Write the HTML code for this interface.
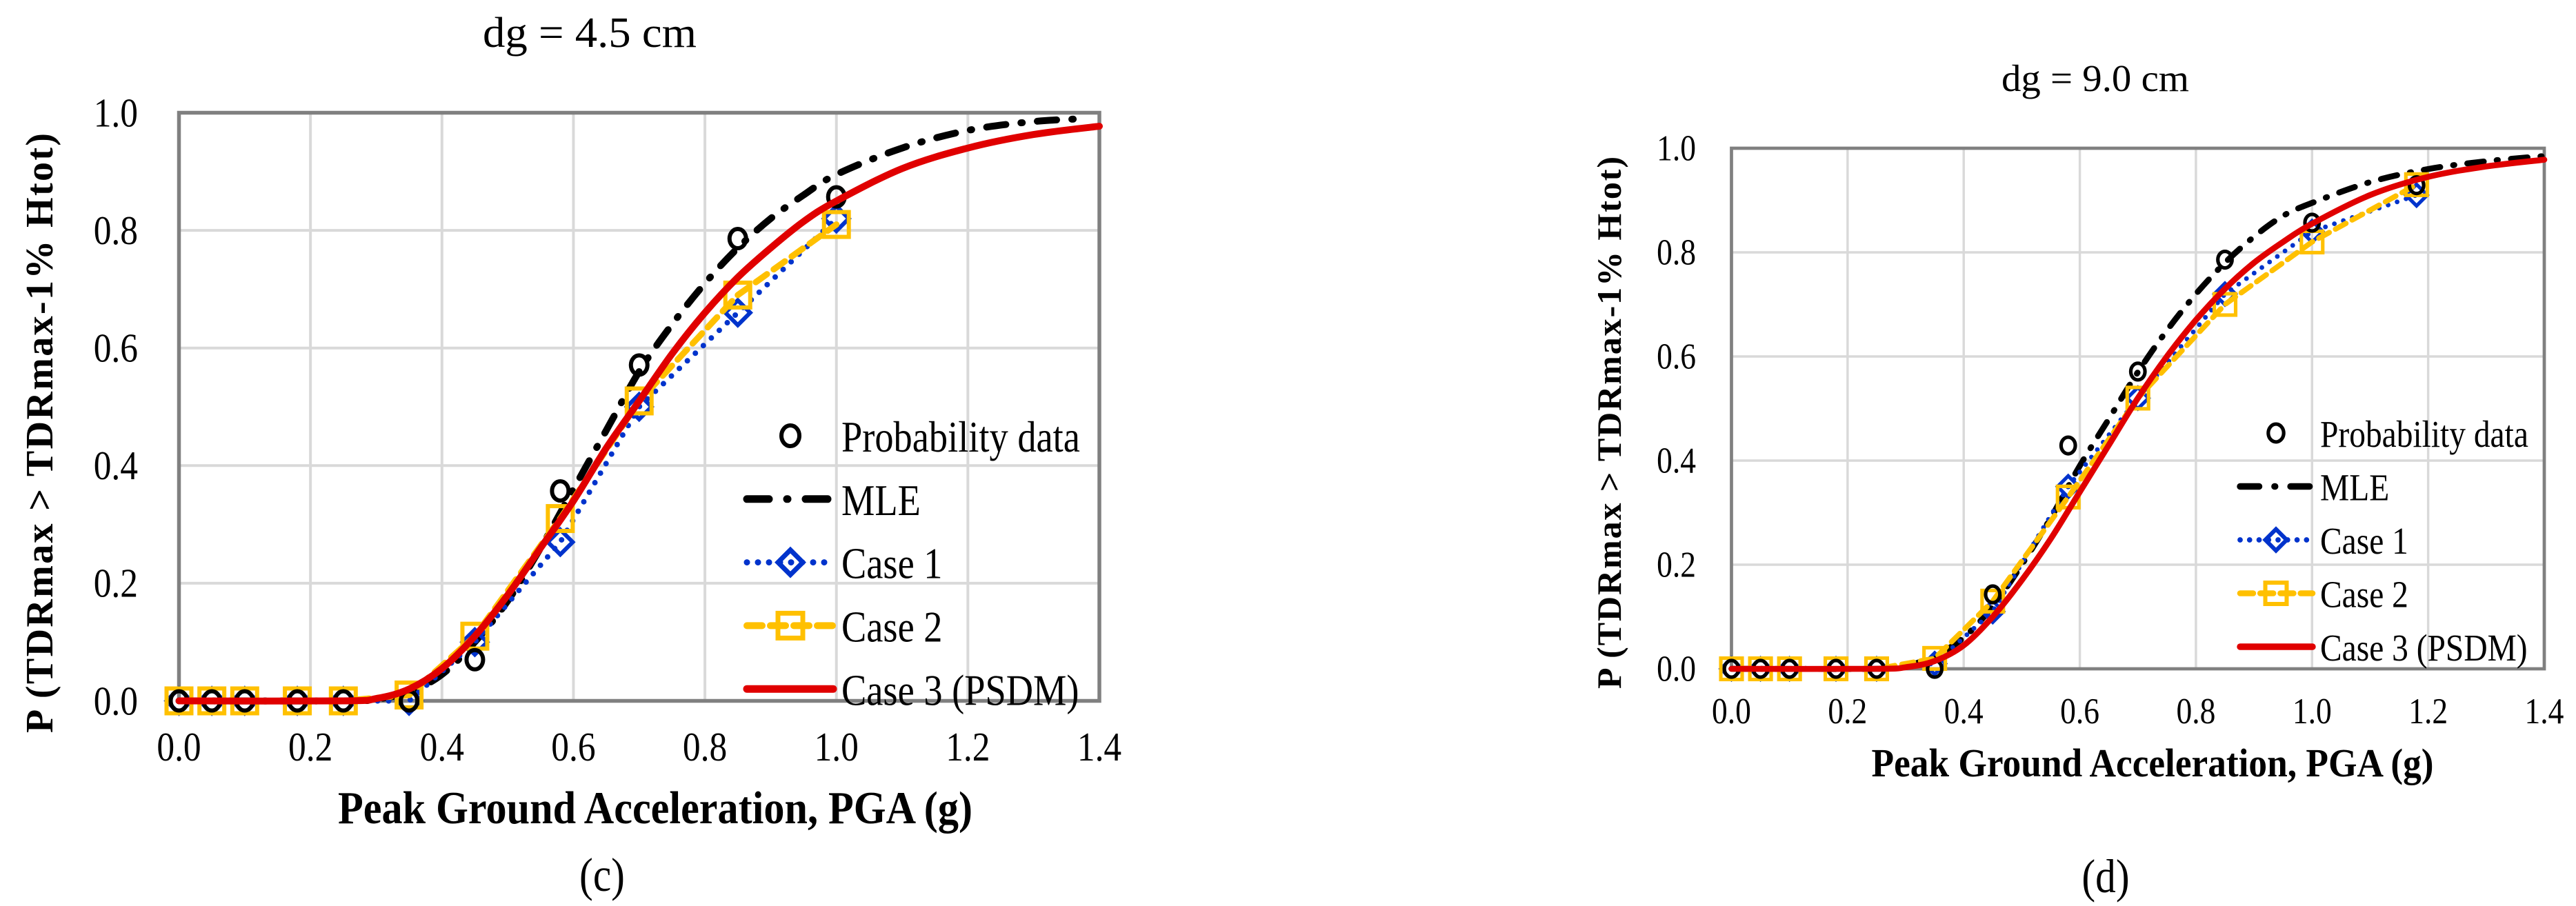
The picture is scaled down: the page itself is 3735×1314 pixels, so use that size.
<!DOCTYPE html>
<html><head><meta charset="utf-8"><style>
html,body{margin:0;padding:0;background:#fff;}
svg{display:block;}
text{font-family:"Liberation Serif",serif;fill:#000;}
</style></head><body>
<svg id="svg" width="3735" height="1314" viewBox="0 0 3735 1314" xmlns="http://www.w3.org/2000/svg"></svg>
<script>
// ---- data: chart (c), dg = 4.5 cm ----
const cPtsX = [0.0,0.05,0.1,0.18,0.25,0.35,0.45,0.58,0.70,0.85,1.0];
const cProb = [0,0,0,0,0,0,0.07,0.357,0.571,0.786,0.857];
const cCase1 = [0,0,0,0,0,0,0.10,0.27,0.50,0.66,0.82];
const cCase2 = [0,0,0,0,0,0.01,0.11,0.31,0.51,0.69,0.81];
const cCurveX = [0,0.25,0.3,0.35,0.4,0.45,0.5,0.55,0.6,0.65,0.7,0.75,0.8,0.85,0.9,0.95,1.0,1.1,1.2,1.3,1.38];
const cMLE = [0,0,0.003,0.015,0.045,0.10,0.17,0.26,0.36,0.46,0.56,0.64,0.71,0.77,0.82,0.86,0.895,0.94,0.97,0.985,0.99];
const cCurve3X = [0,0.25,0.3,0.35,0.4,0.45,0.5,0.55,0.6,0.65,0.7,0.75,0.8,0.85,0.9,0.95,1.0,1.1,1.2,1.3,1.4];
const cCase3 = [0,0,0.004,0.02,0.055,0.11,0.18,0.26,0.34,0.43,0.51,0.59,0.66,0.72,0.77,0.815,0.85,0.905,0.94,0.963,0.977];
// ---- data: chart (d), dg = 9.0 cm ----
const dPtsX = [0.0,0.05,0.1,0.18,0.25,0.35,0.45,0.58,0.70,0.85,1.0,1.18];
const dProb = [0,0,0,0,0,0,0.143,0.429,0.571,0.786,0.857,0.929];
const dCase1 = [0,0,0,0,0,0.01,0.11,0.35,0.52,0.72,0.84,0.91];
const dCase2 = [0,0,0,0,0,0.02,0.13,0.33,0.52,0.70,0.82,0.93];
const dCurveX = [0,0.25,0.3,0.35,0.4,0.45,0.5,0.55,0.6,0.65,0.7,0.75,0.8,0.85,0.9,0.95,1.0,1.1,1.2,1.3,1.4];
const dMLE = [0,0,0.005,0.025,0.06,0.12,0.20,0.29,0.39,0.48,0.57,0.65,0.72,0.78,0.83,0.87,0.895,0.935,0.96,0.975,0.985];
const dCase3 = [0,0,0.003,0.015,0.045,0.10,0.17,0.25,0.34,0.43,0.52,0.60,0.67,0.73,0.78,0.82,0.855,0.91,0.945,0.965,0.978];
// ---- tick labels ----
const xTicks = ["0.0","0.2","0.4","0.6","0.8","1.0","1.2","1.4"];
const yTicks = ["0.0","0.2","0.4","0.6","0.8","1.0"];
const legendLabels = ["Probability data","MLE","Case 1","Case 2","Case 3 (PSDM)"];

const NS="http://www.w3.org/2000/svg";
const svg=document.getElementById('svg');
const K=1.15, SQ=0.86;
function mk(tag,attrs,parent){const e=document.createElementNS(NS,tag);for(const k in attrs)e.setAttribute(k,attrs[k]);(parent||svg).appendChild(e);return e;}
function txt(s,attrs,parent){
  const a=Object.assign({},attrs);
  const fixed=('textLength' in a);
  if(!fixed)a['font-size']=a['font-size']*K;
  a['font-family']='Liberation Serif, serif';
  const e=mk('text',a,parent);e.textContent=s;
  if(!fixed){const w=e.getComputedTextLength();if(w>0){e.setAttribute('textLength',(w*SQ).toFixed(1));e.setAttribute('lengthAdjust','spacingAndGlyphs');}}
  return e;}
function smooth(pts){
  let d='M'+pts[0][0]+','+pts[0][1];
  for(let i=0;i<pts.length-1;i++){
    const p0=pts[Math.max(0,i-1)],p1=pts[i],p2=pts[i+1],p3=pts[Math.min(pts.length-1,i+2)];
    const c1=[p1[0]+(p2[0]-p0[0])/6,p1[1]+(p2[1]-p0[1])/6];
    const c2=[p2[0]-(p3[0]-p1[0])/6,p2[1]-(p3[1]-p1[1])/6];
    d+=' C'+c1[0].toFixed(1)+','+c1[1].toFixed(1)+' '+c2[0].toFixed(1)+','+c2[1].toFixed(1)+' '+p2[0].toFixed(1)+','+p2[1].toFixed(1);
  }
  return d;
}
function diamond(g,x,y,r,sw){return mk('path',{d:`M${x},${y-r} L${x+r},${y} L${x},${y+r} L${x-r},${y} Z`,fill:'none',stroke:'#0033CC','stroke-width':sw},g);}
function square(g,x,y,r,sw){return mk('rect',{x:x-r,y:y-r,width:2*r,height:2*r,fill:'none',stroke:'#FFC000','stroke-width':sw},g);}

function drawChart(c){
  const g=mk('g',{});
  
  
  const X=v=>c.L+(c.R-c.L)*v/1.4, Y=v=>c.B-(c.B-c.T)*v;
  const s=c.s;
  const grid=mk('g',{},g);
  
  
  for(let i=1;i<7;i++)mk('line',{x1:X(i*0.2),x2:X(i*0.2),y1:c.T,y2:c.B,stroke:'#D9D9D9','stroke-width':4*s},grid);
  for(let i=1;i<5;i++)mk('line',{x1:c.L,x2:c.R,y1:Y(i*0.2),y2:Y(i*0.2),stroke:'#D9D9D9','stroke-width':4*s},grid);
  const fr=mk('rect',{x:c.L,y:c.T,width:c.R-c.L,height:c.B-c.T,fill:'none',stroke:'#808080','stroke-width':5.5*s},g);
  
  
  xTicks.forEach((t,i)=>{const e=txt(t,{x:X(i*0.2),y:c.xtY,'font-size':c.tf,'text-anchor':'middle'},g);
    });
  yTicks.forEach((t,i)=>{const e=txt(t,{x:c.ytX,y:Y(i*0.2)+c.tf*0.38,'font-size':c.tf,'text-anchor':'end'},g);
    });
  let e=txt(c.title,{x:c.titleX,y:c.titleY,'font-size':c.titleF*K,'text-anchor':'middle',textLength:c.titleW,lengthAdjust:'spacingAndGlyphs'},g);
  
  e=txt('Peak Ground Acceleration, PGA (g)',{x:c.xtX,y:c.xtitY,'font-size':c.axF*K,'font-weight':'bold','text-anchor':'middle',textLength:c.xtW,lengthAdjust:'spacingAndGlyphs'},g);
  
  e=txt('P (TDRmax > TDRmax-1% Htot)',{x:0,y:0,'font-size':c.ayF,'font-weight':'bold','text-anchor':'middle',textLength:c.ytW,lengthAdjust:'spacing',transform:`translate(${c.ytitX},${c.ytitY}) rotate(-90)`},g);
  
  e=txt(c.panel,{x:c.panelX,y:c.panelY,'font-size':c.panelF,'text-anchor':'middle'},g);
  
  const mle=mk('path',{d:smooth(c.mleX.map((x,i)=>[X(x),Y(c.mle[i])])),fill:'none',stroke:'#000','stroke-width':10*s,'stroke-dasharray':`${28*s} ${22*s} ${2*s} ${22*s}`,'stroke-linecap':'round'},g);
  
  const c1=mk('g',{},g);
  
  mk('path',{d:'M'+c.px.map((x,i)=>X(x)+','+Y(c.case1[i])).join(' L'),fill:'none',stroke:'#0033CC','stroke-width':8*s,'stroke-dasharray':`0 ${16*s}`,'stroke-linecap':'round'},c1);
  c.px.forEach((x,i)=>diamond(c1,X(x),Y(c.case1[i]),18*s,6*s));
  const c2=mk('g',{},g);
  
  mk('path',{d:'M'+c.px.map((x,i)=>X(x)+','+Y(c.case2[i])).join(' L'),fill:'none',stroke:'#FFC000','stroke-width':9*s,'stroke-dasharray':`${20*s} ${12*s}`,'stroke-linecap':'round'},c2);
  c.px.forEach((x,i)=>square(c2,X(x),Y(c.case2[i]),18*s,6*s));
  const pd=mk('g',{},g);
  
  c.px.forEach((x,i)=>mk('ellipse',{cx:X(x),cy:Y(c.prob[i]),rx:12*s,ry:14*s,fill:'none',stroke:'#000','stroke-width':6*s},pd));
  const c3=mk('path',{d:smooth(c.c3X.map((x,i)=>[X(x),Y(c.case3[i])])),fill:'none',stroke:'#E00000','stroke-width':10*s,'stroke-linecap':'round'},g);
  
  const lg=mk('g',{},g);
  
  legendLabels.forEach((lab,i)=>{
    const y=c.legY+i*c.legDy, mx=c.legMX, x1=c.legX1, x2=c.legX2;
    const ent=mk('g',{},lg);
    
    if(i===0)mk('ellipse',{cx:mx,cy:y,rx:13*s,ry:15*s,fill:'none',stroke:'#000','stroke-width':6*s},ent);
    if(i===1)mk('line',{x1:x1,x2:x2,y1:y,y2:y,stroke:'#000','stroke-width':11*s,'stroke-dasharray':`${32*s} ${26*s} ${1*s} ${26*s}`,'stroke-linecap':'round'},ent);
    if(i===2){mk('line',{x1:x1,x2:x2,y1:y,y2:y,stroke:'#0033CC','stroke-width':9*s,'stroke-dasharray':`0 ${16*s}`,'stroke-linecap':'round'},ent);diamond(ent,mx,y,18*s,7*s);}
    if(i===3){mk('line',{x1:x1,x2:x2,y1:y,y2:y,stroke:'#FFC000','stroke-width':10*s,'stroke-dasharray':`${22*s} ${12*s}`,'stroke-linecap':'round'},ent);square(ent,mx,y,18*s,7*s);}
    if(i===4)mk('line',{x1:x1,x2:x2,y1:y,y2:y,stroke:'#E00000','stroke-width':11*s,'stroke-linecap':'round'},ent);
    txt(lab,{x:c.legTX,y:y+c.legF*0.42,'font-size':c.legF},ent);
  });
}

drawChart({id:'dg-4-5',s:1,L:259.5,R:1594,T:163.5,B:1016.5,tf:52,xtY:1103,ytX:200,
  title:'dg = 4.5 cm',titleX:855,titleY:68,titleF:54,titleW:310,
  xtX:950,xtitY:1194,axF:58,xtW:920,ytitX:76,ytitY:628,ayF:56,ytW:870,
  panel:'(c)',panelX:873,panelY:1292,panelF:60,
  px:cPtsX,prob:cProb,case1:cCase1,case2:cCase2,mleX:cCurveX,mle:cMLE,c3X:cCurve3X,case3:cCase3,
  legY:632,legDy:91.8,legMX:1146,legX1:1083,legX2:1208,legTX:1220,legF:55});
drawChart({id:'dg-9-0',s:0.86,L:2510.5,R:3689,T:215,B:970,tf:46,xtY:1049,ytX:2459,
  title:'dg = 9.0 cm',titleX:3038,titleY:132,titleF:48,titleW:272,
  xtX:3121,xtitY:1126,axF:51,xtW:815,ytitX:2350,ytitY:613,ayF:50,ytW:772,
  panel:'(d)',panelX:3053,panelY:1294,panelF:60,
  px:dPtsX,prob:dProb,case1:dCase1,case2:dCase2,mleX:dCurveX,mle:dMLE,c3X:dCurveX,case3:dCase3,
  legY:628,legDy:77.5,legMX:3300,legX1:3248,legX2:3353,legTX:3364,legF:48});
</script>
</body></html>
